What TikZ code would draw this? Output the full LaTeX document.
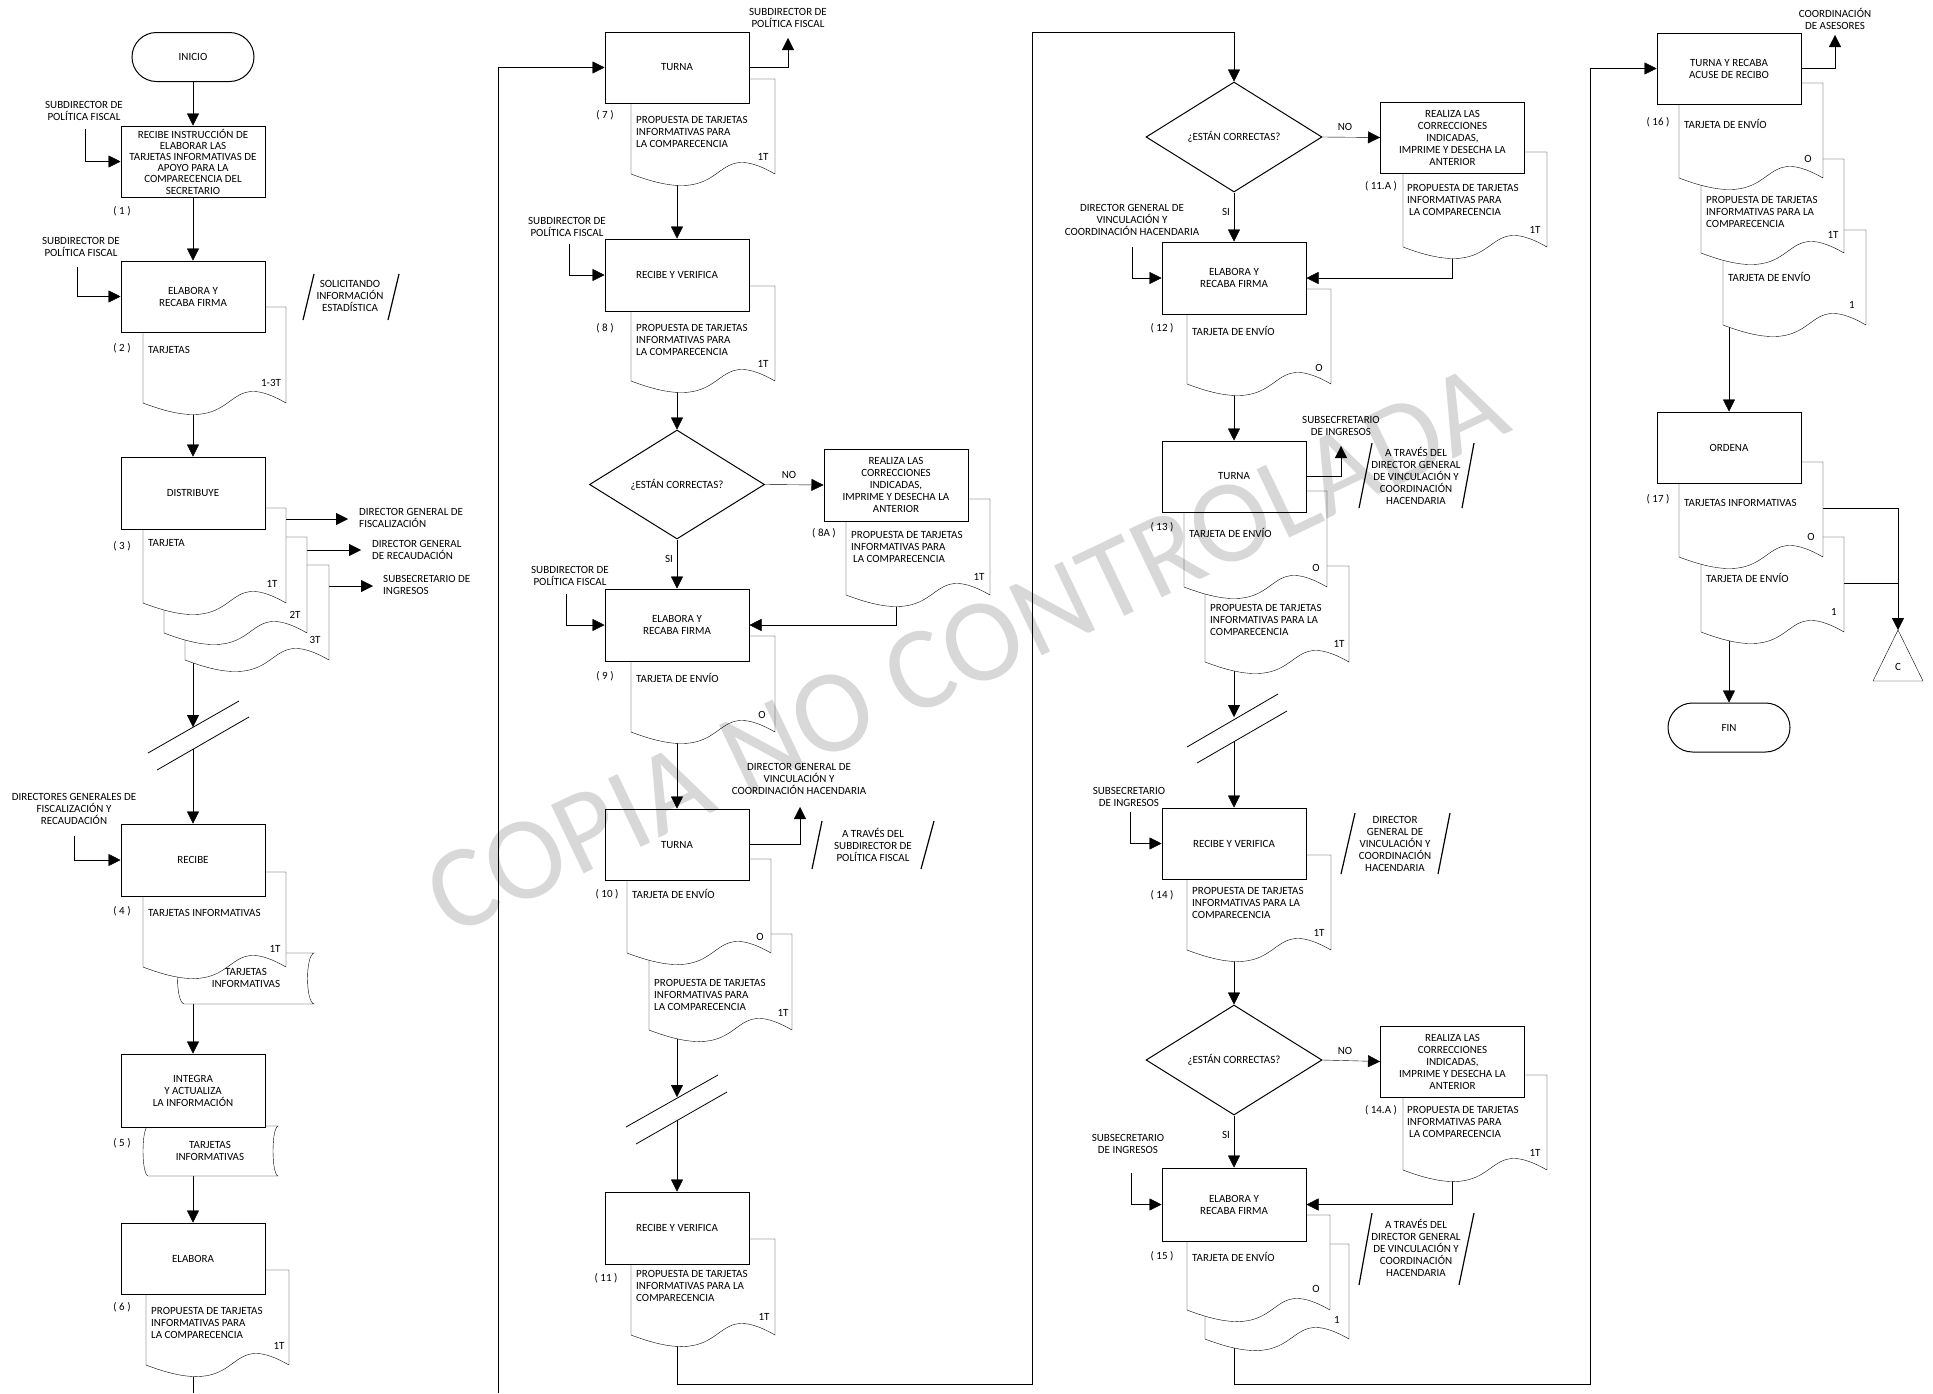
\documentclass[tikz,border=0pt]{standalone}
\usepackage{fontspec}
\setmainfont{Carlito}
\usetikzlibrary{arrows.meta,shapes.geometric}
\pgfdeclarelayer{lines}
\pgfdeclarelayer{docs}
\pgfdeclarelayer{mark}
\pgfsetlayers{lines,docs,main,mark}
\definecolor{wmgray}{RGB}{216,216,216}
% document symbol: left x, top y, right x, bottom y (wavy bottom edge)
\newcommand\docu[4]{\path[draw,fill=white] (#1,#2) -- (#3,#2) -- (#3,#4)
  .. controls ({#1+0.514*(#3-#1)},{#4-40}) and ({#1+0.727*(#3-#1)},{#4+40}) .. (#1,#4) -- cycle;}
% stored-data symbol: left x, top y, right x, bottom y, bulge
\newcommand\stor[5]{\path[draw,fill=white] (#1,#2) -- (#3,#2)
  .. controls ({#3-1.33*#5},{#2+0.05*(#4-#2)}) and ({#3-1.33*#5},{#4-0.05*(#4-#2)}) .. (#3,#4) -- (#1,#4)
  .. controls ({#1-1.33*#5},{#4-0.05*(#4-#2)}) and ({#1-1.33*#5},{#2+0.05*(#4-#2)}) .. (#1,#2) -- cycle;}
\begin{document}
\begin{tikzpicture}[x=1pt,y=-1pt,line width=1pt,
  every node/.style={font=\fontsize{11}{12}\selectfont,inner sep=0pt},
  proc/.style={draw,fill=white,minimum width=144pt,minimum height=72pt,align=center},
  term/.style={draw,fill=white,rounded corners=24.5pt,minimum width=122pt,minimum height=49pt},
  dec/.style={draw,fill=white,diamond,minimum width=176pt,minimum height=110pt},
  arr/.style={-{Triangle[length=12pt,width=12pt]}},
  ctr/.style={align=center},
  lft/.style={anchor=west,align=left},
  brk/.style={line width=0.8pt},
  slash/.style={line width=1.2pt}]
\useasboundingbox (0,0) rectangle (1933,1393);

% ---------------- process boxes ----------------
\node[term] (ini) at (193,57) {INICIO};
\node[proc,minimum height=71pt,font=\fontsize{11}{11.2}\selectfont] (b1) at (193,161.5)
  {RECIBE INSTRUCCIÓN DE\\ELABORAR LAS\\TARJETAS INFORMATIVAS DE\\APOYO PARA LA\\COMPARECENCIA DEL\\SECRETARIO};
\node[proc,minimum height=71pt] (b2) at (193,296.5) {ELABORA Y\\RECABA FIRMA};
\node[proc] (b3) at (193,493) {DISTRIBUYE};
\node[proc] (b4) at (193,860) {RECIBE};
\node[proc,minimum height=73pt] (b5) at (193,1090.5) {INTEGRA\\Y ACTUALIZA\\LA INFORMACIÓN};
\node[proc,minimum height=71pt] (b6) at (193,1258.5) {ELABORA};

\node[proc,minimum height=71pt] (b7) at (677,67.5) {TURNA};
\node[proc] (b8) at (677,275) {RECIBE Y VERIFICA};
\node[dec,minimum width=175pt,minimum height=109pt] (d8) at (677,484.5) {¿ESTÁN CORRECTAS?};
\node[proc] (b8a) at (896,485) {REALIZA LAS\\CORRECCIONES\\INDICADAS,\\IMPRIME Y DESECHA LA\\ANTERIOR};
\node[proc] (b9) at (677,625) {ELABORA Y\\RECABA FIRMA};
\node[proc,minimum height=71pt] (b10) at (677,844.5) {TURNA};
\node[proc] (b11) at (677,1228) {RECIBE Y VERIFICA};

\node[dec] (d11) at (1234,137) {¿ESTÁN CORRECTAS?};
\node[proc,minimum height=71pt] (b11a) at (1452.5,137.5) {REALIZA LAS\\CORRECCIONES\\INDICADAS,\\IMPRIME Y DESECHA LA\\ANTERIOR};
\node[proc] (b12) at (1234,278) {ELABORA Y\\RECABA FIRMA};
\node[proc,minimum height=71pt] (b13) at (1234,476.5) {TURNA};
\node[proc,minimum height=71pt] (b14) at (1234,843.5) {RECIBE Y VERIFICA};
\node[dec] (d14) at (1234,1060) {¿ESTÁN CORRECTAS?};
\node[proc,minimum height=71pt] (b14a) at (1452.5,1061.5) {REALIZA LAS\\CORRECCIONES\\INDICADAS,\\IMPRIME Y DESECHA LA\\ANTERIOR};
\node[proc,minimum height=73pt] (b15) at (1234,1204.5) {ELABORA Y\\RECABA FIRMA};

\node[proc,minimum height=71pt] (b16) at (1729,68.5) {TURNA Y RECABA\\ACUSE DE RECIBO};
\node[proc,minimum height=71pt] (b17) at (1729,447.5) {ORDENA};
\node[term] (fin) at (1729,727.5) {FIN};

% ---------------- free ends of connectors ----------------
\coordinate (in1) at (85,129);
\coordinate (in2) at (77,267);
\coordinate (k3) at (193,727);
\coordinate (k3b) at (193,749);
\coordinate (o3a) at (286,519);  \coordinate (t3a) at (348,519);
\coordinate (o3b) at (307,550);  \coordinate (t3b) at (361,550);
\coordinate (o3c) at (329,586);  \coordinate (t3c) at (373,586);
\coordinate (in4) at (74,836);
\coordinate (end1) at (193,1393);
\coordinate (r1) at (498,1393);
\coordinate (o7) at (788,38);
\coordinate (in8) at (569,244);
\coordinate (in9) at (566,594);
\coordinate (o10) at (800,807);
\coordinate (k10) at (677,1097);
\coordinate (k10b) at (677,1120);
\coordinate (r2) at (1032,1384);
\coordinate (r2t) at (1234,32);
\coordinate (in12) at (1132,247);
\coordinate (o13) at (1341,446);
\coordinate (k13) at (1234,717);
\coordinate (k13b) at (1234,741);
\coordinate (in14) at (1130,812);
\coordinate (in15) at (1131,1173);
\coordinate (r3) at (1590,1384);
\coordinate (o16) at (1835,35);
\coordinate (c1) at (1823,508);
\coordinate (c2) at (1844,583);
\coordinate (tri) at (1898,630);

% ---------------- connectors ----------------
\begin{pgfonlayer}{lines}
\fill[white] (0,0) rectangle (1933,1393);
\draw[arr] (ini.south) -- (b1.north);
\draw[arr] (in1) |- (b1.west);
\draw[arr] (b1.south) -- (b2.north);
\draw[arr] (in2) |- (b2.west);
\draw[arr] (b2.south) -- (b3.north);
\draw[arr] (b3.south) -- (k3);
\draw[arr] (o3a) -- (t3a);
\draw[arr] (o3b) -- (t3b);
\draw[arr] (o3c) -- (t3c);
\draw[arr] (k3b) -- (b4.north);
\draw[arr] (in4) |- (b4.west);
\draw[arr] (b4.south) -- (b5.north);
\draw[arr] (b5.south) -- (b6.north);
\draw (b6.south) -- (end1);

\draw[arr] (r1) |- (b7.west);
\draw[arr] (b7.east) -| (o7);
\draw[arr] (b7.south) -- (b8.north);
\draw[arr] (in8) |- (b8.west);
\draw[arr] (b8.south) -- (d8.north);
\draw[arr] (d8.east) -- (b8a.west);
\draw[arr] (b8a.south) |- (b9.east);
\draw[arr] (d8.south) -- (b9.north);
\draw[arr] (in9) |- (b9.west);
\draw[arr] (b9.south) -- (b10.north);
\draw[arr] (b10.east) -| (o10);
\draw[arr] (b10.south) -- (k10);
\draw[arr] (k10b) -- (b11.north);
\draw[arr] (b11.south) |- (r2) |- (r2t) -- (d11.north);

\draw[arr] (d11.east) -- (b11a.west);
\draw[arr] (b11a.south) |- (b12.east);
\draw[arr] (d11.south) -- (b12.north);
\draw[arr] (in12) |- (b12.west);
\draw[arr] (b12.south) -- (b13.north);
\draw[arr] (b13.east) -| (o13);
\draw[arr] (b13.south) -- (k13);
\draw[arr] (k13b) -- (b14.north);
\draw[arr] (in14) |- (b14.west);
\draw[arr] (b14.south) -- (d14.north);
\draw[arr] (d14.east) -- (b14a.west);
\draw[arr] (b14a.south) |- (b15.east);
\draw[arr] (d14.south) -- (b15.north);
\draw[arr] (in15) |- (b15.west);
\draw[arr] (b15.south) |- (r3) |- (b16.west);

\draw[arr] (b16.east) -| (o16);
\draw[arr] (b16.south) -- (b17.north);
\draw[arr] (b17.south) -- (fin.north);
\draw[arr] (c1) -| (tri);
\draw (c2) -- (c2 -| tri);
\end{pgfonlayer}

% ---------------- documents (back to front) ----------------
\begin{pgfonlayer}{docs}
\docu{143}{307}{286}{403}
\docu{185}{565}{329}{660}
\docu{164}{537}{307}{633}
\docu{143}{508}{286}{603}
\stor{184}{953}{314}{1004}{6.5}
\docu{143}{872}{286}{967}
\stor{148}{1126}{278}{1176}{5}
\docu{146}{1270}{289}{1365}

\docu{631}{79}{775}{174}
\docu{631}{286}{775}{381}
\docu{846}{499}{990}{595}
\docu{631}{636}{775}{732}
\docu{649}{934}{792}{1030}
\docu{627}{859}{771}{953}
\docu{631}{1239}{775}{1335}

\docu{1403}{152}{1547}{247}
\docu{1187}{289}{1331}{384}
\docu{1205}{566}{1349}{662}
\docu{1184}{491}{1327}{587}
\docu{1187}{855}{1331}{950}
\docu{1403}{1075}{1547}{1170}
\docu{1205}{1244}{1349}{1339}
\docu{1187}{1215}{1330}{1310}

\docu{1723}{230}{1866}{325}
\docu{1701}{159}{1844}{253}
\docu{1679}{83}{1823}{178}
\docu{1701}{537}{1844}{632}
\docu{1679}{462}{1823}{557}
\end{pgfonlayer}

% off-page connector
\draw[fill=white] (tri) -- (1923,681) -- (1873,681) -- cycle;
\node (cC) at (1898,667) {C};

% break marks
\draw[brk] (148,753) -- (239,701);  \draw[brk] (157,770) -- (249,717);
\draw[brk] (626,1127) -- (718,1075); \draw[brk] (636,1144) -- (727,1092);
\draw[brk] (1187,747) -- (1278,694); \draw[brk] (1197,763) -- (1287,711);

% annotations between slashes
\draw[slash] (303,320) -- (314,274);  \draw[slash] (388,320) -- (399,274);
\node[ctr] (a2) at (350,296) {SOLICITANDO\\INFORMACIÓN\\ESTADÍSTICA};
\draw[slash] (812,869) -- (822,821);  \draw[slash] (921,869) -- (934,821);
\node[ctr] (a10) at (873,845) {A TRAVÉS DEL\\SUBDIRECTOR DE\\POLÍTICA FISCAL};
\draw[slash] (1359,508) -- (1372,443); \draw[slash] (1462,508) -- (1474,443);
\node[ctr] (a13) at (1416,476) {A TRAVÉS DEL\\DIRECTOR GENERAL\\DE VINCULACIÓN Y\\COORDINACIÓN\\HACENDARIA};
\draw[slash] (1341,874) -- (1355,813); \draw[slash] (1438,874) -- (1450,813);
\node[ctr] (a14) at (1395,844) {DIRECTOR\\GENERAL DE\\VINCULACIÓN Y\\COORDINACIÓN\\HACENDARIA};
\draw[slash] (1359,1285) -- (1372,1213); \draw[slash] (1459,1285) -- (1474,1213);
\node[ctr] (a15) at (1416,1248) {A TRAVÉS DEL\\DIRECTOR GENERAL\\DE VINCULACIÓN Y\\COORDINACIÓN\\HACENDARIA};

% ---------------- column 1 labels ----------------
\node[ctr] (l1) at (84,111) {SUBDIRECTOR DE\\POLÍTICA FISCAL};
\node (n1) at (122,211) {( 1 )};
\node[ctr] (l2) at (81,247) {SUBDIRECTOR DE\\POLÍTICA FISCAL};
\node (n2) at (122,348) {( 2 )};
\node[lft] (t2) at (148,350) {TARJETAS};
\node (c2t) at (271,383) {1-3T};
\node (n3) at (122,546) {( 3 )};
\node[lft] (t3) at (148,543) {TARJETA};
\node (c3a) at (272,584) {1T};
\node (c3b) at (295,615) {2T};
\node (c3c) at (315,640) {3T};
\node[lft] (d3a) at (359,518) {DIRECTOR GENERAL DE\\FISCALIZACIÓN};
\node[lft] (d3b) at (372,550) {DIRECTOR GENERAL\\DE RECAUDACIÓN};
\node[lft] (d3c) at (383,585) {SUBSECRETARIO DE\\INGRESOS};
\node[ctr] (l4) at (74,809) {DIRECTORES GENERALES DE\\FISCALIZACIÓN Y\\RECAUDACIÓN};
\node (n4) at (122,911) {( 4 )};
\node[lft] (t4) at (148,913) {TARJETAS INFORMATIVAS};
\node (c4) at (275,949) {1T};
\node[ctr] (s4) at (246,978) {TARJETAS\\INFORMATIVAS};
\node (n5) at (122,1143) {( 5 )};
\node[ctr] (s5) at (210,1151) {TARJETAS\\INFORMATIVAS};
\node (n6) at (122,1307) {( 6 )};
\node[lft] (t6) at (151,1323) {PROPUESTA DE TARJETAS\\INFORMATIVAS PARA\\LA COMPARECENCIA};
\node (c6) at (279,1346) {1T};

% ---------------- column 2 labels ----------------
\node[ctr] (l7) at (788,18) {SUBDIRECTOR DE\\POLÍTICA FISCAL};
\node (n7) at (605,115) {( 7 )};
\node[lft] (t7) at (636,132) {PROPUESTA DE TARJETAS\\INFORMATIVAS PARA\\LA COMPARECENCIA};
\node (c7) at (763,157) {1T};
\node[ctr] (l8) at (567,226.5) {SUBDIRECTOR DE\\POLÍTICA FISCAL};
\node (n8) at (605,328) {( 8 )};
\node[lft] (t8) at (636,340) {PROPUESTA DE TARJETAS\\INFORMATIVAS PARA\\LA COMPARECENCIA};
\node (c8) at (763,364) {1T};
\node (no8) at (789,475) {NO};
\node (si8) at (669,559) {SI};
\node (n8a) at (824,533) {( 8A )};
\node[lft] (t8a) at (851,547) {PROPUESTA DE TARJETAS\\INFORMATIVAS PARA\\\hspace{2pt}LA COMPARECENCIA};
\node (c8a) at (979,577) {1T};
\node[ctr] (l9) at (570,575.5) {SUBDIRECTOR DE\\POLÍTICA FISCAL};
\node (n9) at (605,676) {( 9 )};
\node[lft] (t9) at (636,678) {TARJETA DE ENVÍO};
\node (c9) at (762,715) {O};
\node[ctr] (l10) at (799,779) {DIRECTOR GENERAL DE\\VINCULACIÓN Y\\COORDINACIÓN HACENDARIA};
\node (n10) at (607,894) {( 10 )};
\node[lft] (t10) at (632,894) {TARJETA DE ENVÍO};
\node (c10) at (760,937) {O};
\node[lft] (t10b) at (654,995) {PROPUESTA DE TARJETAS\\INFORMATIVAS PARA\\LA COMPARECENCIA};
\node (c10b) at (783,1013) {1T};
\node (n11) at (606,1278) {( 11 )};
\node[lft] (t11) at (636,1286) {PROPUESTA DE TARJETAS\\INFORMATIVAS PARA LA\\COMPARECENCIA};
\node (c11) at (764,1317) {1T};

% ---------------- column 3 labels ----------------
\node (no11) at (1345,127) {NO};
\node (si11) at (1226,212) {SI};
\node (n11a) at (1381,186) {( 11.A )};
\node[lft] (t11a) at (1407,200) {PROPUESTA DE TARJETAS\\INFORMATIVAS PARA\\\hspace{2pt}LA COMPARECENCIA};
\node (c11a) at (1535,230) {1T};
\node[ctr] (l12) at (1132,220) {DIRECTOR GENERAL DE\\VINCULACIÓN Y\\COORDINACIÓN HACENDARIA};
\node (n12) at (1162,328) {( 12 )};
\node[lft] (t12) at (1192,331) {TARJETA DE ENVÍO};
\node (c12) at (1319,368) {O};
\node[ctr] (l13) at (1341,425.5) {SUBSECFRETARIO\\DE INGRESOS};
\node (n13) at (1162,527) {( 13 )};
\node[lft] (t13) at (1189,533) {TARJETA DE ENVÍO};
\node (c13) at (1316,568) {O};
\node[lft] (t13b) at (1210,620) {PROPUESTA DE TARJETAS\\INFORMATIVAS PARA LA\\COMPARECENCIA};
\node (c13b) at (1339,644) {1T};
\node[ctr] (l14) at (1129,796.5) {SUBSECRETARIO\\DE INGRESOS};
\node (n14) at (1162,895) {( 14 )};
\node[lft] (t14) at (1192,903) {PROPUESTA DE TARJETAS\\INFORMATIVAS PARA LA\\COMPARECENCIA};
\node (c14) at (1319,933) {1T};
\node (no14) at (1345,1051) {NO};
\node (si14) at (1226,1135) {SI};
\node (n14a) at (1381,1110) {( 14.A )};
\node[lft] (t14a) at (1407,1122) {PROPUESTA DE TARJETAS\\INFORMATIVAS PARA\\\hspace{2pt}LA COMPARECENCIA};
\node (c14a) at (1535,1153) {1T};
\node[ctr] (l15) at (1128,1143.5) {SUBSECRETARIO\\DE INGRESOS};
\node (n15) at (1162,1256) {( 15 )};
\node[lft] (t15) at (1192,1257) {TARJETA DE ENVÍO};
\node (c15) at (1316,1289) {O};
\node (c15b) at (1337,1320) {1};

% ---------------- column 4 labels ----------------
\node[ctr] (l16) at (1835,18.5) {COORDINACIÓN\\DE ASESORES};
\node (n16) at (1658,122) {( 16 )};
\node[lft] (t16) at (1684,124) {TARJETA DE ENVÍO};
\node (c16) at (1808,159) {O};
\node[lft] (t16b) at (1706,212) {PROPUESTA DE TARJETAS\\INFORMATIVAS PARA LA\\COMPARECENCIA};
\node (c16b) at (1833,235) {1T};
\node[lft] (t16c) at (1728,277) {TARJETA DE ENVÍO};
\node (c16c) at (1852,305) {1};
\node (n17) at (1658,499) {( 17 )};
\node[lft] (t17) at (1684,503) {TARJETAS INFORMATIVAS};
\node (c17) at (1811,537) {O};
\node[lft] (t17b) at (1706,578) {TARJETA DE ENVÍO};
\node (c17b) at (1834,612) {1};

% ---------------- watermark ----------------
\begin{pgfonlayer}{mark}
\begin{scope}[blend mode=multiply]
\node[rotate=25.5,text=wmgray,font=\fontsize{118}{118}\selectfont] (wm) at (966,650) {COPIA NO CONTROLADA};
\end{scope}
\end{pgfonlayer}
\end{tikzpicture}
\end{document}
